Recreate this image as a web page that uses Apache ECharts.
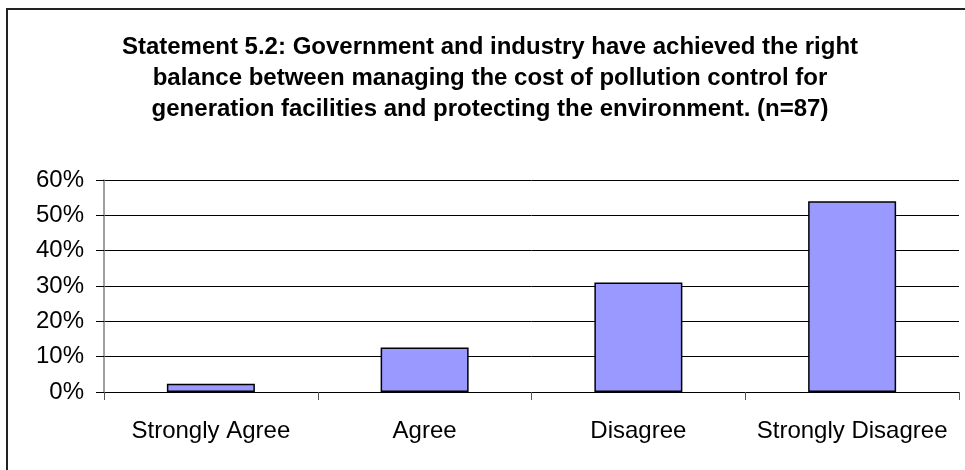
<!DOCTYPE html>
<html>
<head>
<meta charset="utf-8">
<script src="https://cdn.jsdelivr.net/npm/echarts@6/dist/echarts.min.js"></script>
<style>
  html, body { margin: 0; padding: 0; background: #fff; }
  #chart { width: 965px; height: 470px; }
</style>
</head>
<body>
<div id="chart"></div>
<script>
// Survey responses to Statement 5.2 (n=87), share of respondents in percent
const categories = ['Strongly Agree', 'Agree', 'Disagree', 'Strongly Disagree'];
const shares = [2.3, 12.6, 31.0, 54.0];
const titleLines = [
  'Statement 5.2: Government and industry have achieved the right',
  'balance between managing the cost of pollution control for',
  'generation facilities and protecting the environment. (n=87)'
];

const chart = echarts.init(document.getElementById('chart'), null, { renderer: 'canvas' });
const FONT = '"Liberation Sans", Arial, Helvetica, sans-serif';

chart.setOption({
  animation: false,
  backgroundColor: '#ffffff',
  graphic: [
    {
      type: 'rect',
      shape: { x: 7, y: 9, width: 970, height: 480 },
      style: { fill: 'none', stroke: '#222', lineWidth: 2 },
      silent: true
    }
  ],
  title: {
    text: titleLines.join('\n'),
    left: 490,
    textAlign: 'center',
    top: 32,
    padding: 0,
    textStyle: {
      fontFamily: FONT,
      fontWeight: 'bold',
      fontSize: 24,
      lineHeight: 31,
      color: '#000'
    }
  },
  grid: { left: 104, right: 6, top: 180, bottom: 78, containLabel: false },
  xAxis: {
    type: 'category',
    data: categories,
    boundaryGap: true,
    axisLine: { lineStyle: { color: '#000', width: 1 } },
    axisTick: { show: true, length: 8, alignWithLabel: false, lineStyle: { color: '#555' } },
    axisLabel: {
      interval: 0,
      margin: 27,
      fontFamily: FONT,
      fontSize: 24,
      color: '#000'
    }
  },
  yAxis: {
    type: 'value',
    min: 0,
    max: 60,
    interval: 10,
    axisLine: { show: true, lineStyle: { color: '#808080', width: 1.5 } },
    axisTick: { show: true, length: 8, lineStyle: { color: '#000' } },
    splitLine: { show: true, lineStyle: { color: '#000', width: 1 } },
    axisLabel: {
      margin: 20,
      fontFamily: FONT,
      fontSize: 24,
      color: '#000',
      formatter: v => v + '%'
    }
  },
  series: [
    {
      type: 'bar',
      data: shares,
      barWidth: 88,
      itemStyle: { color: '#9999FF', borderColor: '#000', borderWidth: 1.5 }
    }
  ]
});
</script>
</body>
</html>
